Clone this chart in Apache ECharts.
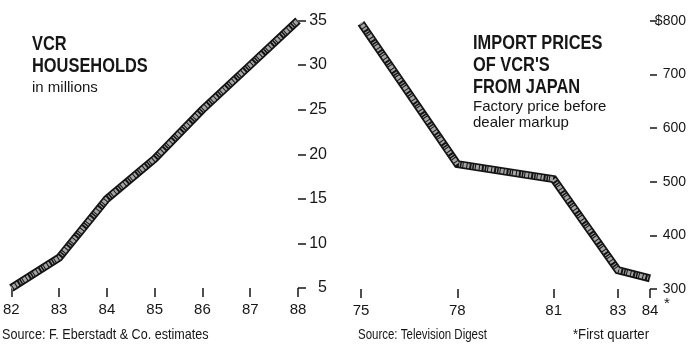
<!DOCTYPE html>
<html>
<head>
<meta charset="utf-8">
<script src="https://cdn.jsdelivr.net/npm/echarts@6/dist/echarts.min.js"></script>
<style>
html,body{margin:0;padding:0;background:#fff;}
#chart{width:696px;height:349px;}
</style>
</head>
<body>
<div id="chart"></div>
<script>
// ---- data ----
const householdYears = ['82', '83', '84', '85', '86', '87', '88'];
const households = [5.0, 8.4, 15.0, 19.5, 25.0, 30.0, 35.0]; // millions
const priceYears = [75, 78, 81, 83, 84];
const prices = [796, 533, 505, 335, 320]; // dollars
const priceTickYears = [75, 78, 81, 83, 84];
const householdTitle = ['VCR', 'HOUSEHOLDS'];
const householdSub = 'in millions';
const priceTitle = ['IMPORT PRICES', "OF VCR'S", 'FROM JAPAN'];
const priceSub = ['Factory price before', 'dealer markup'];
const sourceLeft = 'Source: F. Eberstadt & Co. estimates';
const sourceRight = 'Source: Television Digest';
const footnote = '*First quarter';

const SANS = "'Liberation Sans', Arial, Helvetica, sans-serif";
const INK = '#161616';

const chart = echarts.init(document.getElementById('chart'), null, {renderer: 'canvas'});

const priceData = priceYears.map((y, i) => [y, prices[i]]);

function lineLayers(xi, yi, data) {
  return [
    {type: 'line', xAxisIndex: xi, yAxisIndex: yi, data: data, symbol: 'none', silent: true,
     lineStyle: {color: '#141414', width: 8, join: 'miter', cap: 'butt'}, z: 2},
    {type: 'line', xAxisIndex: xi, yAxisIndex: yi, data: data, symbol: 'none', silent: true,
     lineStyle: {color: '#a4a4a4', width: 4.5, type: [1, 1, 3, 1, 2, 2, 1, 1.5], join: 'miter', cap: 'butt'}, z: 3}
  ];
}

const tickStyle = {color: INK, width: 1.5};

const graphic = [];
function txt(x, y, s, weight, size, sx, align) {
  graphic.push({type: 'text', x: x, y: y, scaleX: sx || 1, silent: true,
    style: {text: s, fill: INK, font: (weight || 'normal') + ' ' + size + 'px ' + SANS,
      textAlign: align || 'left', textVerticalAlign: 'middle'}});
}
txt(32, 44, householdTitle[0], 'bold', 20, 0.82);
txt(32, 66, householdTitle[1], 'bold', 20, 0.82);
txt(32, 88, householdSub, 'normal', 15, 1);
txt(473, 43, priceTitle[0], 'bold', 20, 0.82);
txt(473, 65, priceTitle[1], 'bold', 20, 0.82);
txt(473, 87.5, priceTitle[2], 'bold', 20, 0.82);
txt(473, 107, priceSub[0], 'normal', 15, 1);
txt(473, 123, priceSub[1], 'normal', 15, 1);
txt(2, 335, sourceLeft, 'normal', 15, 0.84);
txt(358, 335, sourceRight, 'normal', 14, 0.82);
txt(573, 335, footnote, 'normal', 14, 0.94);
txt(664, 304, '*', 'normal', 15, 1);

chart.setOption({
  animation: false,
  backgroundColor: '#fff',
  grid: [
    {left: 9, right: 696 - 298, top: 20.5, bottom: 349 - 288},
    {left: 361, right: 696 - 650, top: 21, bottom: 349 - 289}
  ],
  xAxis: [
    {type: 'category', gridIndex: 0, data: householdYears, boundaryGap: false,
     axisLine: {show: false},
     axisTick: {show: true, length: 9, lineStyle: tickStyle, interval: 0},
     axisLabel: {margin: 14, color: INK, fontSize: 15, fontFamily: SANS, interval: 0},
     splitLine: {show: false}},
    {type: 'value', gridIndex: 1, min: 75, max: 84,
     axisLine: {show: false},
     axisTick: {show: true, length: 9, lineStyle: tickStyle, customValues: priceTickYears},
     axisLabel: {margin: 14, color: INK, fontSize: 15, fontFamily: SANS, customValues: priceTickYears,
       showMinLabel: true, showMaxLabel: true},
     splitLine: {show: false}}
  ],
  yAxis: [
    {type: 'value', gridIndex: 0, position: 'right', min: 5, max: 35, interval: 5,
     axisLine: {show: false},
     axisTick: {show: true, length: 8, lineStyle: tickStyle},
     axisLabel: {align: 'right', margin: 29, color: INK, fontSize: 16, fontFamily: SANS},
     splitLine: {show: false}},
    {type: 'value', gridIndex: 1, position: 'right', min: 300, max: 800, interval: 100,
     axisLine: {show: false},
     axisTick: {show: true, length: 7, lineStyle: tickStyle},
     axisLabel: {align: 'right', margin: 36, color: INK, fontSize: 14, fontFamily: SANS,
       formatter: v => v === 800 ? '$' + v : String(v)},
     splitLine: {show: false}}
  ],
  series: [].concat(lineLayers(0, 0, households), lineLayers(1, 1, priceData)),
  graphic: graphic
});
</script>
</body>
</html>
